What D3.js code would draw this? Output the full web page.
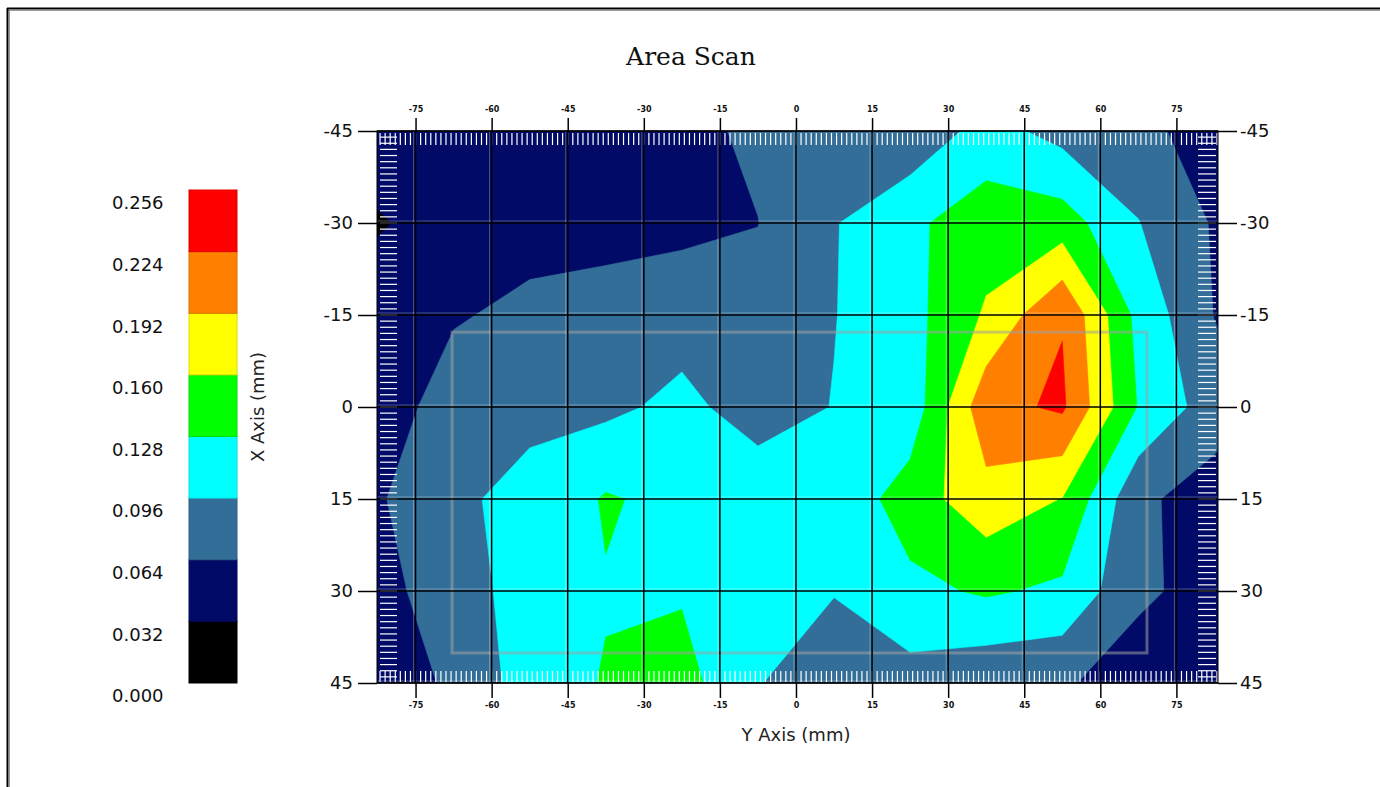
<!DOCTYPE html>
<html><head><meta charset="utf-8">
<script src="https://cdn.jsdelivr.net/npm/d3@7"></script>
<style>body{margin:0;background:#fff;} svg{display:block;}</style>
</head><body>
<svg id="chart" width="1380" height="787"></svg>
<script>
// ---- data ----
const xTicks = [-75, -60, -45, -30, -15, 0, 15, 30, 45, 60, 75];
const yTicks = [-45, -30, -15, 0, 15, 30, 45];
const gridX = [-82.5, -67.5, -52.5, -37.5, -22.5, -7.5, 7.5, 22.5, 37.5, 52.5, 67.5, 82.5];
const gridY = [-45, -30, -15, 0, 15, 30, 45];
// measured values (mm) per row of gridY, columns of gridX
const rowM45 = [0.050, 0.050, 0.050, 0.052, 0.055, 0.070, 0.080, 0.072, 0.108, 0.085, 0.075, 0.046];
const rowM30 = [0.029, 0.045, 0.048, 0.052, 0.056, 0.0635, 0.094, 0.122, 0.145, 0.143, 0.097, 0.061];
const rowM15 = [0.050, 0.060, 0.074, 0.078, 0.083, 0.075, 0.095, 0.117, 0.164, 0.222, 0.118, 0.063];
const row0   = [0.040, 0.085, 0.092, 0.089, 0.104, 0.082, 0.097, 0.107, 0.214, 0.229, 0.126, 0.079];
const rowP15 = [0.060, 0.093, 0.101, 0.131, 0.119, 0.115, 0.104, 0.144, 0.180, 0.159, 0.070, 0.050];
const rowP30 = [0.052, 0.083, 0.108, 0.126, 0.125, 0.115, 0.097, 0.120, 0.132, 0.122, 0.070, 0.052];
const rowP45 = [0.057, 0.066, 0.113, 0.130, 0.140, 0.097, 0.083, 0.084, 0.071, 0.068, 0.048, 0.045];
const levels = [0, 0.032, 0.064, 0.096, 0.128, 0.160, 0.192, 0.224];
const levelLabels = ["0.256", "0.224", "0.192", "0.160", "0.128", "0.096", "0.064", "0.032", "0.000"];
const bandColors = ["#000000", "#010a66", "#336e99", "#00ffff", "#00ff00", "#ffff00", "#ff8000", "#ff0000"];
const outline = [-67.8, -12.2, 69.2, 40.1];
const minorX = d3.range(-82, 84, 1);
const minorY = d3.range(-44, 45, 1);

// ---- layout ----
const W = 1380, H = 787;
const P = {left: 377, right: 1218, top: 131, bottom: 683};
const svg = d3.select("#chart");
const x = d3.scaleLinear().domain([-82.6, 83.2]).range([P.left, P.right]);
const y = d3.scaleLinear().domain([-45, 45]).range([P.top, P.bottom]);
const FONT = "'DejaVu Sans', Arial, sans-serif";
const fmt = d => String(d);

// outer frame
svg.append("line").attr("x1", 7).attr("x2", W).attr("y1", 8.5).attr("y2", 8.5).attr("stroke", "#000").attr("stroke-width", 2);
svg.append("line").attr("x1", 8).attr("x2", W).attr("y1", 10.5).attr("y2", 10.5).attr("stroke", "#999").attr("stroke-width", 1);
svg.append("line").attr("x1", 7.5).attr("x2", 7.5).attr("y1", 8).attr("y2", H).attr("stroke", "#000").attr("stroke-width", 2);
svg.append("line").attr("x1", 9.5).attr("x2", 9.5).attr("y1", 10).attr("y2", H).attr("stroke", "#999").attr("stroke-width", 1);

// title
svg.append("text").attr("x", 691).attr("y", 65).attr("text-anchor", "middle")
  .attr("font-family", "'DejaVu Serif', 'Liberation Serif', serif").attr("font-size", 25)
  .attr("fill", "#111").text("Area Scan");

// ---- contours ----
const values = [rowM45, rowM30, rowM15, row0, rowP15, rowP30, rowP45].flat();
const cx = d3.scaleLinear().domain([0.5, gridX.length - 0.5]).range([gridX[0], gridX[gridX.length - 1]]);
const cy = d3.scaleLinear().domain([0.5, gridY.length - 0.5]).range([gridY[0], gridY[gridY.length - 1]]);
const contours = d3.contours().size([gridX.length, gridY.length]).thresholds(levels)(values);
const path = d3.geoPath(d3.geoTransform({
  point(px, py) { this.stream.point(x(cx(px)), y(cy(py))); }
}));

svg.append("clipPath").attr("id", "plotClip").append("rect")
  .attr("x", P.left).attr("y", P.top).attr("width", P.right - P.left).attr("height", P.bottom - P.top);

const plot = svg.append("g").attr("clip-path", "url(#plotClip)");
plot.selectAll("path.band").data(contours).join("path")
  .attr("class", "band")
  .attr("d", path)
  .attr("fill", (d, i) => bandColors[i])
  .attr("stroke", (d, i) => bandColors[i])
  .attr("stroke-width", 0.6);

// part outline (semi-transparent)
plot.append("rect")
  .attr("x", x(outline[0])).attr("y", y(outline[1]))
  .attr("width", x(outline[2]) - x(outline[0])).attr("height", y(outline[3]) - y(outline[1]))
  .attr("fill", "none").attr("stroke", "#a0a0a0").attr("stroke-opacity", 0.55).attr("stroke-width", 3);

// minor ruler ticks (white, inward)
plot.append("g").selectAll("line").data(minorX).join("line")
  .attr("x1", d => x(d)).attr("x2", d => x(d)).attr("y1", P.top + 2).attr("y2", P.top + 14)
  .attr("stroke", "#fff").attr("stroke-width", 1.2);
plot.append("g").selectAll("line").data(minorX).join("line")
  .attr("x1", d => x(d)).attr("x2", d => x(d)).attr("y1", P.bottom - 12).attr("y2", P.bottom - 1)
  .attr("stroke", "#fff").attr("stroke-width", 1.2);
plot.append("g").selectAll("line").data(minorY).join("line")
  .attr("x1", P.left + 3).attr("x2", P.left + 20).attr("y1", d => y(d)).attr("y2", d => y(d))
  .attr("stroke", "#fff").attr("stroke-width", 1.2);
plot.append("g").selectAll("line").data(minorY).join("line")
  .attr("x1", P.right - 20).attr("x2", P.right - 2).attr("y1", d => y(d)).attr("y2", d => y(d))
  .attr("stroke", "#fff").attr("stroke-width", 1.2);

// faint halo lines next to the grid
plot.append("g").selectAll("line").data(xTicks).join("line")
  .attr("x1", d => x(d) - 2).attr("x2", d => x(d) - 2).attr("y1", P.top).attr("y2", P.bottom)
  .attr("stroke", "#fff").attr("stroke-opacity", 0.3).attr("stroke-width", 1);
plot.append("g").selectAll("line").data(yTicks).join("line")
  .attr("x1", P.left).attr("x2", P.right).attr("y1", d => y(d) - 2).attr("y2", d => y(d) - 2)
  .attr("stroke", "#fff").attr("stroke-opacity", 0.3).attr("stroke-width", 1);

// grid lines
svg.append("g").selectAll("line").data(xTicks).join("line")
  .attr("x1", d => x(d)).attr("x2", d => x(d)).attr("y1", P.top).attr("y2", P.bottom)
  .attr("stroke", "#000").attr("stroke-width", 1.5);
svg.append("g").selectAll("line").data(yTicks).join("line")
  .attr("x1", P.left).attr("x2", P.right).attr("y1", d => y(d)).attr("y2", d => y(d))
  .attr("stroke", "#000").attr("stroke-width", 1.5);
svg.append("rect").attr("x", P.left).attr("y", P.top).attr("width", P.right - P.left).attr("height", P.bottom - P.top)
  .attr("fill", "none").attr("stroke", "#000").attr("stroke-width", 1);

// axes
function styleAxis(g, size, bold) {
  g.select(".domain").remove();
  g.selectAll(".tick line").attr("stroke", "#000").attr("stroke-width", 1.5);
  g.selectAll(".tick text").attr("font-family", FONT).attr("font-size", size)
    .attr("font-weight", bold ? "bold" : "normal").attr("fill", "#111");
}
svg.append("g").attr("transform", `translate(0,${P.top})`)
  .call(d3.axisTop(x).tickValues(xTicks).tickSize(13).tickPadding(6).tickFormat(fmt))
  .call(g => styleAxis(g, 8, true));
svg.append("g").attr("transform", `translate(0,${P.bottom})`)
  .call(d3.axisBottom(x).tickValues(xTicks).tickSize(15).tickPadding(4).tickFormat(fmt))
  .call(g => styleAxis(g, 8, true));
svg.append("g").attr("transform", `translate(${P.left},0)`)
  .call(d3.axisLeft(y).tickValues(yTicks).tickSize(19).tickPadding(5).tickFormat(fmt))
  .call(g => styleAxis(g, 18, false));
svg.append("g").attr("transform", `translate(${P.right},0)`)
  .call(d3.axisRight(y).tickValues(yTicks).tickSize(19).tickPadding(3).tickFormat(fmt))
  .call(g => styleAxis(g, 18, false));

// axis titles
svg.append("text").attr("x", 796).attr("y", 741).attr("text-anchor", "middle")
  .attr("font-family", FONT).attr("font-size", 18).attr("fill", "#222").text("Y Axis (mm)");
svg.append("text").attr("transform", "translate(264,407) rotate(-90)").attr("text-anchor", "middle")
  .attr("font-family", FONT).attr("font-size", 18).attr("fill", "#222").text("X Axis (mm)");

// ---- colour bar ----
const cb = {x: 189, w: 48, top: 190, bottom: 683};
const cbScale = d3.scaleLinear().domain([levels[0], 0.256]).range([cb.bottom, cb.top]);
const bandTops = levels.map((l, i) => i < levels.length - 1 ? levels[i + 1] : 0.256);
svg.append("g").selectAll("rect").data(levels).join("rect")
  .attr("x", cb.x).attr("width", cb.w)
  .attr("y", (d, i) => cbScale(bandTops[i]))
  .attr("height", (d, i) => cbScale(d) - cbScale(bandTops[i]))
  .attr("fill", (d, i) => bandColors[i])
  .attr("stroke", (d, i) => d3.color(bandColors[i]).darker(0.4))
  .attr("stroke-width", 1);
const labelVals = levelLabels.map(s => +s);
svg.append("g").selectAll("text").data(levelLabels).join("text")
  .attr("x", 112).attr("y", (d, i) => cbScale(labelVals[i]) + 13)
  .attr("dy", "0.35em")
  .attr("font-family", FONT).attr("font-size", 18).attr("fill", "#111")
  .text(d => d);
</script>
</body></html>
